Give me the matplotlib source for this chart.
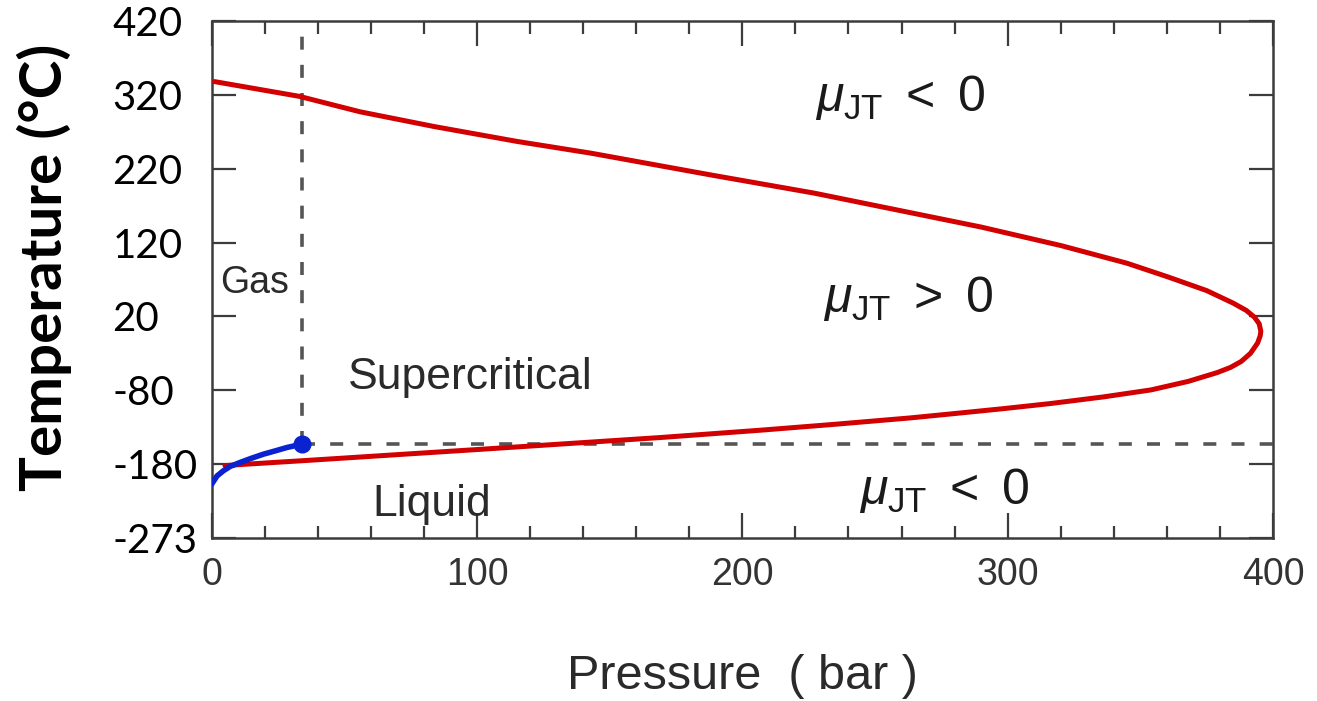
import matplotlib
matplotlib.use("Agg")
import matplotlib.pyplot as plt
from matplotlib.ticker import MultipleLocator, FixedLocator

# ---------------- data ----------------
# Joule-Thomson inversion curve (red), upper branch then lower branch
inv_pressure_upper = [1, 33, 56, 84, 115, 143, 189, 227, 264, 290, 320, 345, 360, 375, 385, 390, 393, 394.8, 395.4]
inv_temp_upper = [338, 318, 297, 277, 257, 241, 211, 187, 160, 141, 116, 92, 74, 55, 38, 28, 19, 10, 0]
inv_pressure_lower = [395.2, 394.2, 391.5, 388, 384, 379, 368, 354, 336, 316, 298, 280, 263, 235, 207, 169, 135, 101, 64, 38, 20, 11, 5]
inv_temp_lower = [-6, -16, -30, -41, -49, -56, -68, -79.5, -89, -98, -105, -111.5, -117.5, -126, -134, -144, -152, -160, -168.5, -174.5, -178.5, -180.5, -182]

# liquid-vapour coexistence curve (blue) ending at the critical point
vap_pressure = [0, 2, 4.4, 7, 10.7, 15, 19.5, 24, 28.3, 34]
vap_temp = [-207, -196, -189, -183, -177.7, -172, -166.5, -162, -157.5, -153]
crit_pressure = 34
crit_temp = -153

pressure_ticks = [0, 100, 200, 300, 400]
pressure_tick_labels = ["0", "100", "200", "300", "400"]
temp_ticks = [-280, -180, -80, 20, 120, 220, 320, 420]
temp_tick_labels = ["-273", "-180", "-80", "20", "120", "220", "320", "420"]

region_labels = ["Gas", "Supercritical", "Liquid"]
region_pos = [(3.1, 51.5), (51.4, -78.8), (60.4, -250)]
mu_labels = [r"$\mu_{\mathrm{JT}}\ <\ 0$", r"$\mu_{\mathrm{JT}}\ >\ 0$", r"$\mu_{\mathrm{JT}}\ <\ 0$"]
mu_pos = [(227.4, 298.7), (230.5, 26), (243.9, -234)]

# ---------------- style ----------------
plt.rcParams["mathtext.fontset"] = "custom"
plt.rcParams["mathtext.rm"] = "Liberation Sans"
plt.rcParams["mathtext.it"] = "Liberation Sans:italic"
plt.rcParams["mathtext.bf"] = "Liberation Sans:bold"

W, H = 1317, 701
fig = plt.figure(figsize=(W / 100, H / 100), dpi=100)
fig.patch.set_facecolor("white")
ax = fig.add_axes([211.7 / W, 1 - 538 / H, (1273 - 211.7) / W, (538 - 21) / H])

xmin, xmax = 0, 400
ymin, ymax = -280, 420
ax.set_xlim(xmin, xmax)
ax.set_ylim(ymin, ymax)

frame_col = "#3c3c3c"
dash_col = "#555555"

# dashed guide lines through the critical point
ax.vlines(crit_pressure, crit_temp, ymax, colors=dash_col, linestyles=(0, (3.6, 4.2)), linewidth=2.6, zorder=1)
ax.hlines(crit_temp, crit_pressure, xmax, colors=dash_col, linestyles=(0, (3.6, 4.2)), linewidth=2.6, zorder=1)

# inversion curve
ax.plot(inv_pressure_upper + inv_pressure_lower, inv_temp_upper + inv_temp_lower,
        color="#d20000", linewidth=3.6, solid_joinstyle="round", solid_capstyle="round", zorder=3)
# vapour curve + critical point
ax.plot(vap_pressure, vap_temp, color="#0a22d0", linewidth=4.0, solid_capstyle="round", zorder=4)
ax.plot([crit_pressure], [crit_temp], "o", color="#0a22d0", markersize=12, zorder=5)

# ticks
ax.xaxis.set_major_locator(FixedLocator(pressure_ticks))
ax.set_xticklabels(pressure_tick_labels)
ax.xaxis.set_minor_locator(MultipleLocator(20))
ax.yaxis.set_major_locator(FixedLocator(temp_ticks))
ax.set_yticklabels(temp_tick_labels)

ax.tick_params(axis="x", which="major", direction="in", length=18, width=1.6, color=frame_col,
               top=True, bottom=True, pad=14, labelsize=27, labelcolor="#333333")
ax.tick_params(axis="x", which="minor", direction="in", length=9, width=1.6, color=frame_col,
               top=True, bottom=True)
ax.tick_params(axis="y", which="major", direction="in", length=17, width=1.6, color=frame_col,
               left=True, right=True, pad=71.5, labelsize=29, labelcolor="black")
for lab in ax.get_xticklabels():
    lab.set_family("Liberation Sans")
for lab in ax.get_yticklabels():
    lab.set_family("Lato")
    lab.set_horizontalalignment("left")

for sp in ax.spines.values():
    sp.set_color(frame_col)
    sp.set_linewidth(1.8)

# region labels
region_sizes = [27, 32, 32]
for txt, (px, ty), fs in zip(region_labels, region_pos, region_sizes):
    ax.text(px, ty, txt, fontsize=fs, family="Liberation Sans", color="#2a2a2a",
            ha="left", va="baseline", zorder=6)
for txt, (px, ty) in zip(mu_labels, mu_pos):
    ax.text(px, ty, txt, fontsize=36, family="Liberation Sans", color="#1a1a1a",
            ha="left", va="baseline", zorder=6)

# axis titles
fig.text(44 / W, 1 - 267 / H, "Temperature (°C)", rotation=90, fontsize=42, fontweight="bold",
         family="Lato", ha="center", va="center", color="black")
fig.text(742 / W, 1 - 689 / H, "Pressure  ( bar )", fontsize=35, family="Liberation Sans",
         ha="center", va="baseline", color="#2a2a2a")

fig.savefig("out.png", dpi=100, facecolor="white")
